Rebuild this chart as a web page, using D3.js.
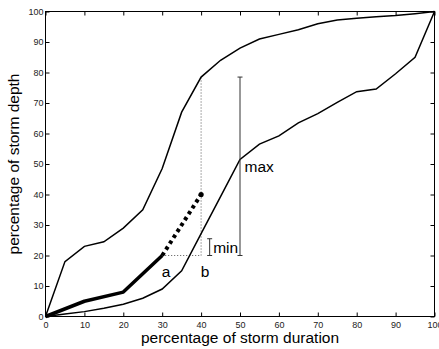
<!DOCTYPE html>
<html><head><meta charset="utf-8">
<script src="https://cdn.jsdelivr.net/npm/d3@7"></script>
<style>
html,body{margin:0;padding:0;background:#fff;}
svg{display:block;}
</style></head>
<body>
<script>
// Data
const ticks = [0,10,20,30,40,50,60,70,80,90,100];
const upperX = [0,5,10,15,20,25,30,35,40,45,50,55,60,65,70,75,80,85,90,95,100];
const upperY = [0,18,23,24.5,29,35,48.5,67,78.5,84,88,91,92.5,94,96,97.2,97.8,98.3,98.7,99.3,100];
const lowerX = [0,5,10,15,20,25,30,35,40,45,50,55,60,65,70,75,80,85,90,95,100];
const lowerY = [0,0.8,1.6,2.7,4,6,9,15,27.2,39.3,51.5,56.5,59.2,63.5,66.5,70.2,73.7,74.6,79.6,85,100];
const thickX = [0,10,20,30];
const thickY = [0,5,8,20];
const dashX = [30,40];
const dashY = [20,40];
const maxBar = {x:50, y0:20, y1:78.5};
const minBar = {x:42.2, y0:20, y1:25.5};

const W=439,H=349;
const svg=d3.select("body").append("svg").attr("width",W).attr("height",H);
const x=d3.scaleLinear().domain([0,100]).range([45.5,434.5]);
const y=d3.scaleLinear().domain([0,100]).range([316.5,11.5]);
const font='"Liberation Sans", Arial, Helvetica, sans-serif';

// frame
svg.append("rect").attr("x",x(0)).attr("y",y(100)).attr("width",x(100)-x(0)).attr("height",y(0)-y(100))
  .attr("fill","none").attr("stroke","#000").attr("stroke-width",1);

function styleAxis(g, labels){
  g.select(".domain").remove();
  g.selectAll(".tick line").attr("stroke","#000");
  g.selectAll(".tick text").attr("fill","#222").style("font-family",font).style("font-size","9px");
  if(!labels) g.selectAll(".tick text").remove();
}
svg.append("g").attr("transform",`translate(0,${y(0)})`)
  .call(d3.axisBottom(x).tickValues(ticks).tickSizeInner(-4).tickSizeOuter(0).tickPadding(5))
  .call(g=>styleAxis(g,true));
svg.append("g").attr("transform",`translate(0,${y(100)})`)
  .call(d3.axisTop(x).tickValues(ticks).tickSizeInner(-4).tickSizeOuter(0))
  .call(g=>styleAxis(g,false));
svg.append("g").attr("transform",`translate(${x(0)},0)`)
  .call(d3.axisLeft(y).tickValues(ticks).tickSizeInner(-4).tickSizeOuter(0).tickPadding(2))
  .call(g=>styleAxis(g,true));
svg.append("g").attr("transform",`translate(${x(100)},0)`)
  .call(d3.axisRight(y).tickValues(ticks).tickSizeInner(-4).tickSizeOuter(0))
  .call(g=>styleAxis(g,false));

const line=d3.line().x(d=>x(d[0])).y(d=>y(d[1]));
const zip=(a,b)=>a.map((v,i)=>[v,b[i]]);

// dotted guides
svg.append("line").attr("x1",x(40)).attr("x2",x(40)).attr("y1",y(dashY[0])).attr("y2",y(upperY[8]))
  .attr("stroke","#555").attr("stroke-width",1).attr("stroke-dasharray","1,2");
svg.append("line").attr("x1",x(30)).attr("x2",x(40)).attr("y1",y(20)).attr("y2",y(20))
  .attr("stroke","#555").attr("stroke-width",1).attr("stroke-dasharray","1,2");

svg.append("path").attr("d",line(zip(upperX,upperY))).attr("fill","none").attr("stroke","#000").attr("stroke-width",1.5);
svg.append("path").attr("d",line(zip(lowerX,lowerY))).attr("fill","none").attr("stroke","#000").attr("stroke-width",1.5);
svg.append("path").attr("d",line(zip(thickX,thickY))).attr("fill","none").attr("stroke","#000").attr("stroke-width",3.5).attr("stroke-linejoin","round");
svg.append("path").attr("d",line(zip(dashX,dashY))).attr("fill","none").attr("stroke","#000").attr("stroke-width",4).attr("stroke-dasharray","3.5,3.5");
svg.append("circle").attr("cx",x(40)).attr("cy",y(40)).attr("r",2.6).attr("fill","#000");

// error bars
function bar(b,color){
  const g=svg.append("g").attr("stroke",color).attr("stroke-width",1);
  g.append("line").attr("x1",x(b.x)).attr("x2",x(b.x)).attr("y1",y(b.y0)).attr("y2",y(b.y1));
  g.append("line").attr("x1",x(b.x)-2.5).attr("x2",x(b.x)+2.5).attr("y1",y(b.y0)).attr("y2",y(b.y0));
  g.append("line").attr("x1",x(b.x)-2.5).attr("x2",x(b.x)+2.5).attr("y1",y(b.y1)).attr("y2",y(b.y1));
}
bar(maxBar,"#333");
bar(minBar,"#333");

const txt=(s,px,py,size,anchor)=>svg.append("text").attr("x",px).attr("y",py).text(s)
  .style("font-family",font).style("font-size",size+"px").attr("text-anchor",anchor||"start").attr("fill","#000");
txt("max",x(50)+4.5,172,15.5);
txt("min",x(minBar.x)+3.5,253,15.5);
txt("a",x(31),277,15.5,"middle");
txt("b",x(41),277,15.5,"middle");

txt("percentage of storm duration",(x(0)+x(100))/2,343,15.5,"middle");
svg.append("text").attr("transform",`translate(19,${(y(0)+y(100))/2}) rotate(-90)`).attr("text-anchor","middle")
  .text("percentage of storm depth").style("font-family",font).style("font-size","15.5px").attr("fill","#000");
</script>
</body></html>
